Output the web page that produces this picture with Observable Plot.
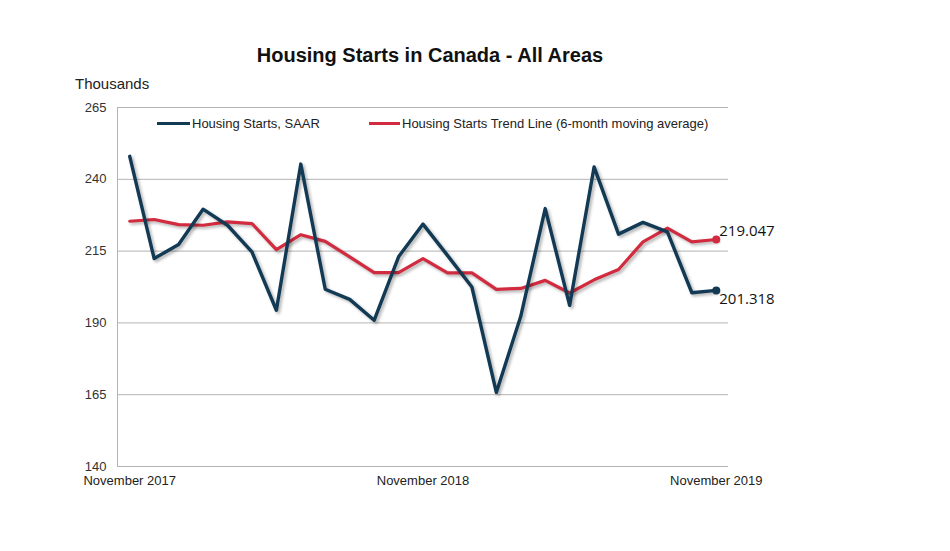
<!DOCTYPE html>
<html>
<head>
<meta charset="utf-8">
<script src="https://cdn.jsdelivr.net/npm/d3@7"></script>
<script src="https://cdn.jsdelivr.net/npm/@observablehq/plot@0.6"></script>
<style>
  html, body { margin: 0; padding: 0; background: #fff; }
  #wrap { position: relative; width: 950px; height: 551px; font-family: "Liberation Sans", Arial, sans-serif; }
  #header { position: relative; height: 95px; }
  #title { position: absolute; left: 0; width: 860px; top: 44px; text-align: center; font-size: 20px; font-weight: bold; color: #111; }
  #ylab { position: absolute; left: 75px; top: 75px; font-size: 15px; color: #222; }
  .legend { position: absolute; top: 116px; font-size: 13px; color: #222; display: flex; align-items: center; white-space: nowrap; }
  .sw { display: inline-block; width: 33px; height: 3px; margin-right: 2px; }
</style>
</head>
<body>
<div id="wrap">
  <div id="header">
    <div id="title">Housing Starts in Canada - All Areas</div>
    <div id="ylab">Thousands</div>
  </div>
  <div id="chart"></div>
  <div class="legend" id="leg1" style="left:157px"><span class="sw" style="background:#123a55"></span>Housing Starts, SAAR</div>
  <div class="legend" id="leg2" style="left:369px"><span class="sw" style="background:#d22b3f;width:31px"></span>Housing Starts Trend Line (6-month moving average)</div>
</div>
<script>
const months = ["Nov 2017","Dec 2017","Jan 2018","Feb 2018","Mar 2018","Apr 2018","May 2018","Jun 2018","Jul 2018","Aug 2018","Sep 2018","Oct 2018","Nov 2018","Dec 2018","Jan 2019","Feb 2019","Mar 2019","Apr 2019","May 2019","Jun 2019","Jul 2019","Aug 2019","Sep 2019","Oct 2019","Nov 2019"];
const saar = [248.0, 212.4, 217.3, 229.6, 224.0, 214.7, 194.4, 245.3, 201.7, 198.2, 190.9, 213.0, 224.4, 213.5, 202.5, 165.8, 192.3, 229.8, 196.1, 244.3, 220.9, 225.0, 221.7, 200.5, 201.318];
const trend = [225.4, 226.0, 224.2, 224.0, 225.2, 224.6, 215.5, 220.7, 218.4, 213.0, 207.5, 207.5, 212.4, 207.4, 207.4, 201.7, 202.0, 204.8, 200.4, 205.0, 208.6, 218.2, 223.0, 218.2, 219.047];
const yTicks = [140, 165, 190, 215, 240, 265];
const xTickMonths = ["Nov 2017", "Nov 2018", "Nov 2019"];
const xTickLabels = ["November 2017", "November 2018", "November 2019"];
const endLabels = ["201.318", "219.047"];

const saarData = months.map((m, i) => ({month: m, value: saar[i]}));
const trendData = months.map((m, i) => ({month: m, value: trend[i]}));
const lastSaar = [saarData[saarData.length - 1]];
const lastTrend = [trendData[trendData.length - 1]];

const blue = "#123a55";
const red = "#d22b3f";

const chart = Plot.plot({
  width: 950,
  height: 456,
  marginLeft: 117,
  marginRight: 222,
  marginTop: 12,
  marginBottom: 85,
  style: {fontFamily: "'Liberation Sans', Arial, sans-serif", fontSize: "13px", color: "#333", background: "#fff"},
  x: {type: "point", domain: months, padding: 0.5, round: false, label: null},
  y: {domain: [140, 265], label: null},
  marks: [
    Plot.gridY(yTicks, {stroke: "#b3b3b3", strokeOpacity: 1, strokeWidth: 1}),
    Plot.frame({anchor: "left", stroke: "#b3b3b3"}),
    Plot.axisY(yTicks, {tickSize: 0, tickPadding: 11, fontSize: 13, fill: "#333"}),
    Plot.axisX(xTickMonths, {tickSize: 0, tickPadding: 9, fontSize: 13, fill: "#222",
      tickFormat: d => xTickLabels[xTickMonths.indexOf(d)]}),
    Plot.line(trendData, {x: "month", y: "value", stroke: red, strokeWidth: 3.2}),
    Plot.line(saarData, {x: "month", y: "value", stroke: blue, strokeWidth: 3.4}),
    Plot.dot(lastTrend, {x: "month", y: "value", r: 4, fill: red}),
    Plot.dot(lastSaar, {x: "month", y: "value", r: 4, fill: blue}),
    Plot.text(lastTrend, {x: "month", y: "value", text: () => endLabels[1], textAnchor: "start", dx: 3, dy: -8,
      fontSize: 15, fill: "#111", fontFamily: "'Open Sans', sans-serif"}),
    Plot.text(lastSaar, {x: "month", y: "value", text: () => endLabels[0], textAnchor: "start", dx: 3, dy: 9,
      fontSize: 15, fill: "#111", fontFamily: "'Open Sans', sans-serif"})
  ]
});
document.getElementById("chart").appendChild(chart);
d3.select(chart).selectAll("g[aria-label='line'] path")
  .style("filter", "drop-shadow(2px 2px 1.5px rgba(0,0,0,0.3))");
</script>
</body>
</html>
